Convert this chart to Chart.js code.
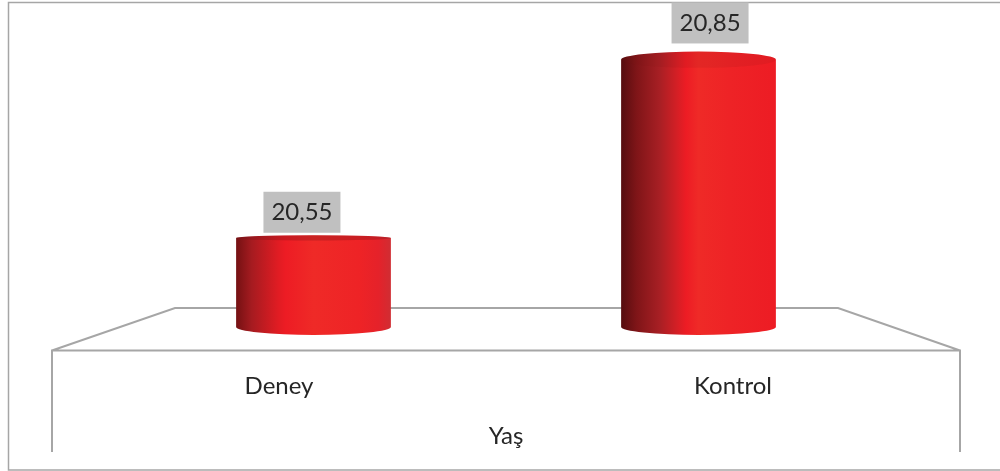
<!DOCTYPE html>
<html>
<head>
<meta charset="utf-8">
<script src="https://cdn.jsdelivr.net/npm/chart.js@4"></script>
<style>
    html, body { margin: 0; padding: 0; background: #fff; }
    #wrap { width: 1000px; height: 471px; }
</style>
</head>
<body>
<div id="wrap"><canvas id="chart"></canvas></div>
<script>
const categories = ['Deney', 'Kontrol'];
const values = [20.55, 20.85];
const axisTitle = 'Yaş';
const yMin = 20.4;
const yMax = 20.9;

const fontFamily = 'Lato, "Open Sans", sans-serif';
const lineColor = '#a6a6a6';
const textColor = '#262626';
const labelBoxColor = '#c0c0c0';

// shading differs per bar because of the 3d view
const bodyStops = [
    [[0, '#741113'], [0.1, '#a51b20'], [0.27, '#e01c23'], [0.32, '#ed1c24'], [0.5, '#ef2a27'], [0.8, '#ee2326'], [0.92, '#e5222a'], [1, '#d02d33']],
    [[0, '#560d0f'], [0.1, '#7f1518'], [0.25, '#a81f24'], [0.36, '#d41f25'], [0.42, '#ed1c24'], [0.5, '#ef2a27'], [0.7, '#ee2326'], [1, '#ed1c24']]
];

// ellipses get flatter near the eye level of the 3d view
const ellipseHeight = y => Math.abs(y - 195) * 0.06;

function bodyGradient(ctx, left, right, i) {
    const g = ctx.createLinearGradient(left, 0, right, 0);
    bodyStops[i].forEach(([pos, color]) => g.addColorStop(pos, color));
    return g;
}

// Frame and the 3d floor, drawn under the bars
const floorPlugin = {
    id: 'floor',
    beforeDatasetsDraw(chart) {
        const ctx = chart.ctx;
        const front = chart.scales.xFront;
        const frontY = 350.5;
        const backY = 308;
        ctx.save();
        ctx.strokeStyle = lineColor;
        ctx.lineWidth = 1.5;
        ctx.strokeRect(8.5, 2.5, 1000, 467.5);
        ctx.lineWidth = 2;
        ctx.beginPath();
        ctx.moveTo(front.left, 452);
        ctx.lineTo(front.left, frontY);
        ctx.lineTo(front.right, frontY);
        ctx.lineTo(front.right, 452);
        ctx.moveTo(front.left, frontY);
        ctx.lineTo(front.left + 123, backY);
        ctx.lineTo(front.right - 122, backY);
        ctx.lineTo(front.right, frontY);
        ctx.stroke();
        ctx.restore();
    }
};

// Replaces the flat bars with cylinders and puts the value boxes on top
const cylinderPlugin = {
    id: 'cylinder',
    beforeDatasetDraw(chart, args) {
        const ctx = chart.ctx;
        const centerX = (chart.chartArea.left + chart.chartArea.right) / 2;
        args.meta.data.forEach((bar, i) => {
            const left = bar.x - bar.width / 2;
            const right = bar.x + bar.width / 2;
            const rx = bar.width / 2;
            const topRy = ellipseHeight(bar.y);
            const baseRy = ellipseHeight(bar.base);

            ctx.save();
            ctx.fillStyle = bodyGradient(ctx, left, right, i);
            ctx.beginPath();
            ctx.moveTo(left, bar.y);
            ctx.lineTo(left, bar.base);
            ctx.ellipse(bar.x, bar.base, rx, baseRy, 0, Math.PI, 0, true);
            ctx.lineTo(right, bar.y);
            ctx.ellipse(bar.x, bar.y, rx, topRy, 0, 0, Math.PI, true);
            ctx.closePath();
            ctx.fill();

            // top cap, darker the flatter it is
            ctx.fillStyle = `rgba(120, 20, 25, ${0.8 / topRy})`;
            ctx.beginPath();
            ctx.ellipse(bar.x, bar.y, rx, topRy, 0, 0, Math.PI * 2);
            ctx.fill();

            // value box, pushed outwards a little like the rest of the labels
            const boxW = 77;
            const boxH = 41;
            const boxX = centerX + (bar.x - centerX) * 1.06;
            const boxBottom = bar.y - topRy * 2;
            ctx.fillStyle = labelBoxColor;
            ctx.fillRect(boxX - boxW / 2, boxBottom - boxH, boxW, boxH);
            ctx.fillStyle = textColor;
            ctx.font = '24px ' + fontFamily;
            ctx.textAlign = 'center';
            ctx.textBaseline = 'middle';
            ctx.fillText(values[i].toFixed(2).replace('.', ','), boxX, boxBottom - boxH / 2);
            ctx.restore();
        });
        return false;
    }
};

new Chart(document.getElementById('chart'), {
    type: 'bar',
    data: {
        labels: categories,
        datasets: [{
            data: values,
            base: yMin,
            xAxisID: 'x',
            yAxisID: 'y',
            backgroundColor: '#ed1c24',
            barPercentage: 0.402,
            categoryPercentage: 1
        }]
    },
    options: {
        responsive: true,
        maintainAspectRatio: false,
        animation: false,
        layout: { padding: { left: 52, right: 40, top: 30, bottom: 0 } },
        plugins: { legend: { display: false }, tooltip: { enabled: false } },
        scales: {
            x: { display: false },
            // the labels sit on the front edge of the floor, wider than the bars
            xFront: {
                type: 'category',
                position: 'bottom',
                fullSize: true,
                labels: categories,
                grid: { display: false },
                border: { display: false },
                ticks: {
                    color: textColor,
                    font: { family: fontFamily, size: 24 },
                    padding: 37,
                    maxRotation: 0
                },
                title: {
                    display: true,
                    text: axisTitle,
                    color: textColor,
                    font: { family: fontFamily, size: 24 },
                    padding: { top: 0, bottom: 20 }
                },
                afterFit(scale) { scale.height = 144; }
            },
            y: {
                min: yMin,
                max: yMax,
                grid: { display: false },
                border: { display: false },
                ticks: { display: false },
                afterFit(scale) { scale.width = 69; }
            },
            yRight: {
                position: 'right',
                grid: { display: false },
                border: { display: false },
                ticks: { display: false },
                afterFit(scale) { scale.width = 69; }
            }
        }
    },
    plugins: [floorPlugin, cylinderPlugin]
});
</script>
</body>
</html>
